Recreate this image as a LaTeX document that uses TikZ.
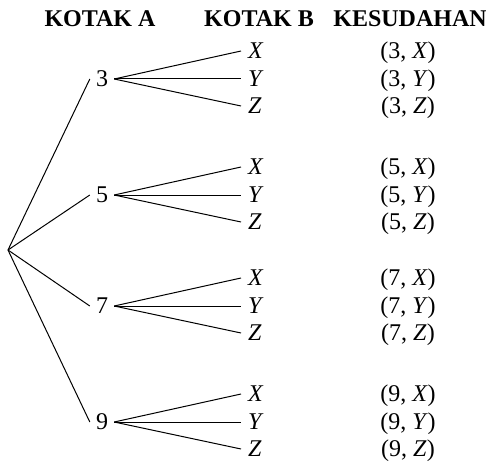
\documentclass[tikz,border=0pt]{standalone}
\usepackage{fontspec}
\setmainfont{Liberation Serif}
\begin{document}
\begin{tikzpicture}[x=1pt,y=-1pt,
  txt/.style={font=\fontsize{24}{28}\selectfont, inner sep=0pt},
  head/.style={txt, font=\fontsize{24}{28}\selectfont\bfseries, anchor=base},
  num/.style={txt, inner xsep=6pt},
  leaf/.style={txt, inner xsep=7pt, anchor=west},
  outc/.style={txt, anchor=base},
  br/.style={line width=1pt}]
\useasboundingbox (0,0) rectangle (486,462);
\node[head] (hA) at (100,27) {KOTAK A};
\node[head] (hB) at (259,27) {KOTAK B};
\node[head] (hC) at (410,27) {KESUDAHAN};
\coordinate (root) at (8,250);
\foreach \n/\y in {3/79,5/195,7/306,9/422}{
  \node[num] (n\n) at (102,\y) {\n};
  \draw[br] (root) -- (n\n.west);
  \node[leaf] (x\n) at (241,\y-28) {\textit{X}};
  \node[leaf] (y\n) at (241,\y) {\textit{Y}};
  \node[leaf] (z\n) at (241,\y+27) {\textit{Z}};
  \draw[br] (n\n.east) -- (x\n.west);
  \draw[br] (n\n.east) -- (y\n.west);
  \draw[br] (n\n.east) -- (z\n.west);
  \node[outc] (ox\n) at (408,\y-28+7.8) {(\n, \textit{X})};
  \node[outc] (oy\n) at (408,\y+7.8) {(\n, \textit{Y})};
  \node[outc] (oz\n) at (408,\y+27+7.8) {(\n, \textit{Z})};
}
\end{tikzpicture}
\end{document}
